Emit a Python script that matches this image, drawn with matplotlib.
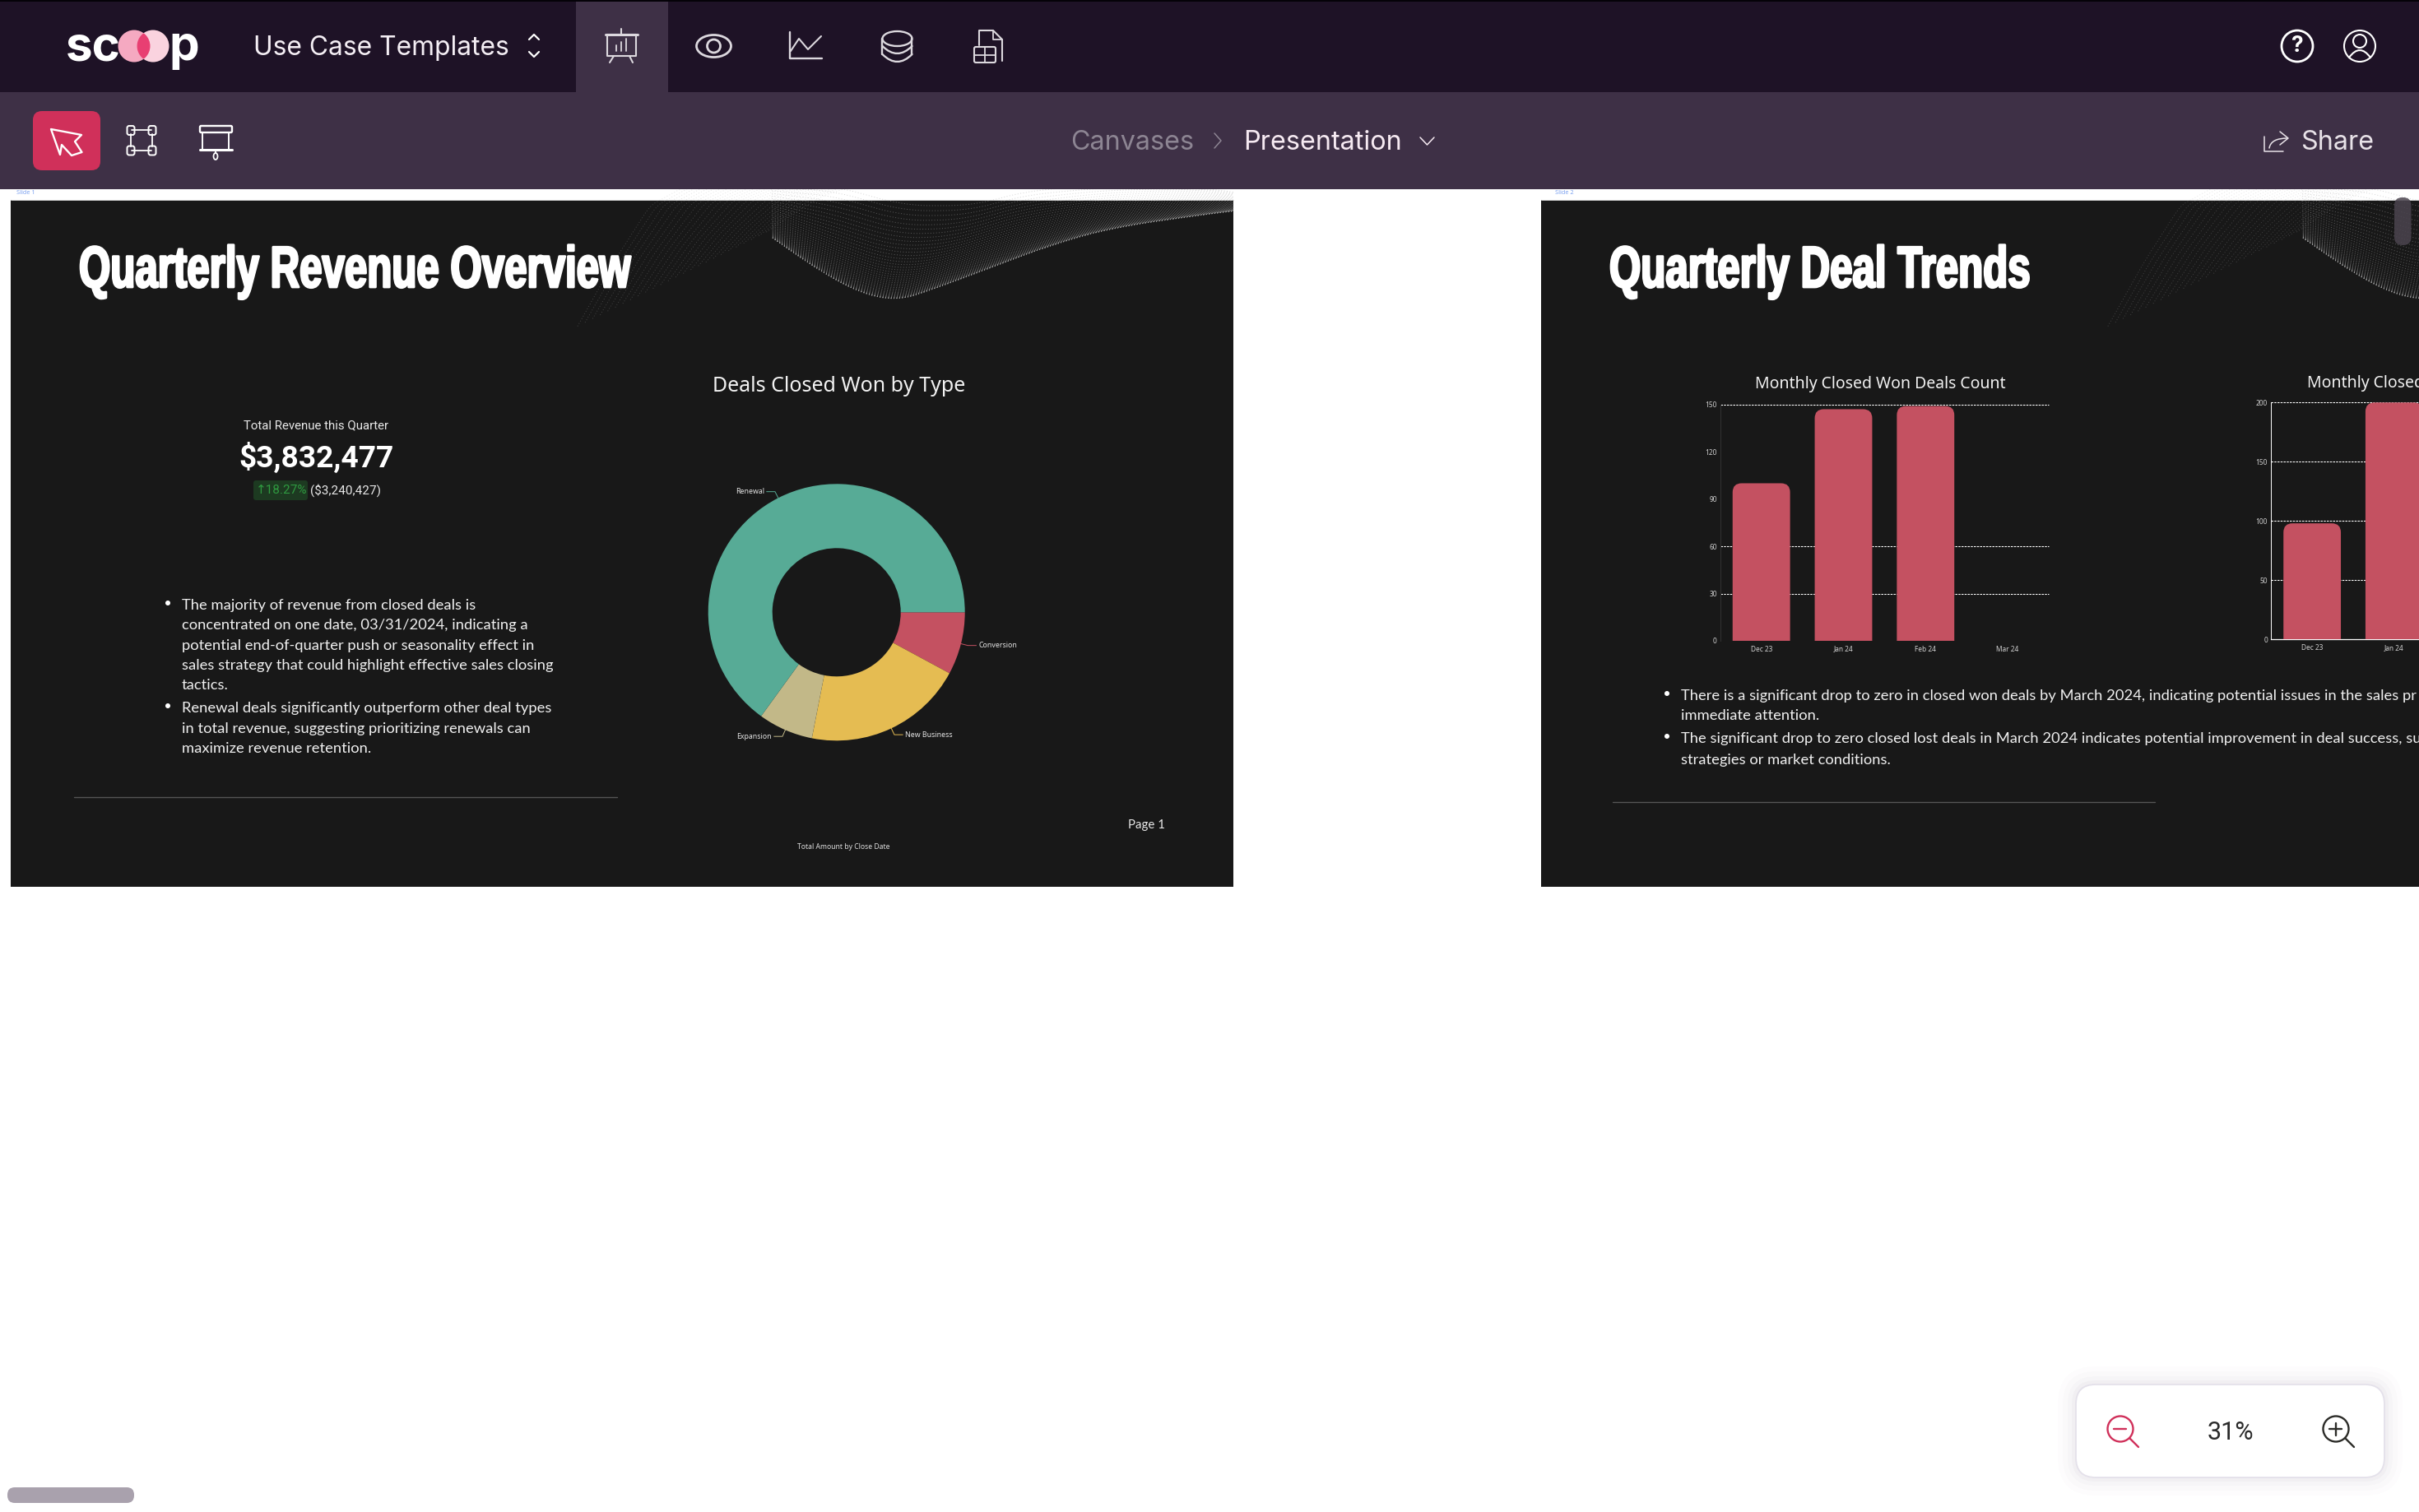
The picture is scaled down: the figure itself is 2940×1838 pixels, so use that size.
import numpy as np
import matplotlib
matplotlib.use("Agg")
import matplotlib.pyplot as plt
from matplotlib.patches import Rectangle, FancyBboxPatch, Circle, Ellipse, PathPatch, Polygon
from matplotlib.path import Path
from matplotlib.transforms import Affine2D
import matplotlib.patheffects as pe

# data
deal_types = ["Conversion", "New Business", "Expansion", "Renewal"]
deal_amounts = [302000, 774000, 265000, 2491000]
deal_colors = ["#c45161", "#e5bc52", "#c2b888", "#57ab96"]

won_months = ["Dec 23", "Jan 24", "Feb 24", "Mar 24"]
won_counts = [100, 147, 149, 0]
won_ticks = [0, 30, 60, 90, 120, 150]
won_grid = [30, 60, 150]

lost_months = ["Dec 23", "Jan 24"]
lost_counts = [98, 200]
lost_ticks = [0, 50, 100, 150, 200]
lost_grid = [50, 100, 150, 200]

bullets_1 = [
    ["The majority of revenue from closed deals is",
     "concentrated on one date, 03/31/2024, indicating a",
     "potential end-of-quarter push or seasonality effect in",
     "sales strategy that could highlight effective sales closing",
     "tactics."],
    ["Renewal deals significantly outperform other deal types",
     "in total revenue, suggesting prioritizing renewals can",
     "maximize revenue retention."],
]
# cut where the canvas cuts them in the screenshot
bullets_2 = [
    ["There is a significant drop to zero in closed won deals by March 2024, indicating potential issues in the sales pr",
     "immediate attention."],
    ["The significant drop to zero closed lost deals in March 2024 indicates potential improvement in deal success, su",
     "strategies or market conditions."],
]

W, H = 2940, 1838
BAR_RED = "#c45161"
SLIDE = "#181818"

fig = plt.figure(figsize=(W / 100, H / 100), dpi=100, facecolor="white")
ui = fig.add_axes([0, 0, 1, 1])
ui.set_xlim(0, W)
ui.set_ylim(H, 0)
ui.axis("off")


class Condensed(pe.AbstractPathEffect):
    # no condensed display font here, so squeeze the text sideways and fatten it
    def __init__(self, x0, sx, stroke):
        super().__init__()
        self.x0, self.sx, self.stroke = x0, sx, stroke

    def draw_path(self, renderer, gc, tpath, affine, rgbFace=None):
        squeeze = Affine2D().translate(-self.x0, 0).scale(self.sx, 1).translate(self.x0, 0)
        gc0 = renderer.new_gc()
        gc0.copy_properties(gc)
        gc0.set_linewidth(self.stroke)
        gc0.set_foreground("white")
        renderer.draw_path(gc0, tpath, affine + squeeze, rgbFace)
        gc0.restore()


def px_axes(x0, y0, x1, y1):
    a = fig.add_axes([x0 / W, 1 - y1 / H, (x1 - x0) / W, (y1 - y0) / H])
    a.set_facecolor("none")
    return a


def label(x, y, s, size, color="white", family="Noto Sans", weight="normal", ha="left", va="center", **kw):
    return ui.text(x, y, s, fontsize=size, color=color, family=family, weight=weight, ha=ha, va=va, **kw)


def line(xs, ys, color="white", lw=1.5, **kw):
    ui.plot(xs, ys, color=color, lw=lw, solid_capstyle="round", solid_joinstyle="round", **kw)


def box(x0, y0, x1, y1, color, **kw):
    ui.add_patch(Rectangle((x0, y0), x1 - x0, y1 - y0, facecolor=color, edgecolor="none", **kw))


def rbox(x0, y0, x1, y1, r, face, edge="none", lw=0, **kw):
    ui.add_patch(FancyBboxPatch((x0 + r, y0 + r), x1 - x0 - 2 * r, y1 - y0 - 2 * r,
                                boxstyle="round,pad=%f,rounding_size=%f" % (r, r),
                                facecolor=face, edgecolor=edge, lw=lw, **kw))


def curve(p0, p1, p2, color="white", lw=1.5):
    ui.add_patch(PathPatch(Path([p0, p1, p2], [Path.MOVETO, Path.CURVE3, Path.CURVE3]),
                           facecolor="none", edgecolor=color, lw=lw, capstyle="round"))


def smooth(points, n=220, k=25):
    pts = np.array(points, dtype=float)
    s = np.linspace(0, 1, len(pts))
    u = np.linspace(0, 1, n)
    x = np.interp(u, s, pts[:, 0])
    y = np.interp(u, s, pts[:, 1])
    kern = np.ones(k) / k
    pad = k // 2
    x2 = np.convolve(np.pad(x, pad, mode="edge"), kern, mode="valid")
    y2 = np.convolve(np.pad(y, pad, mode="edge"), kern, mode="valid")
    return x2, y2


def wave(low, up, n, power, alpha, dx, right):
    lx, ly = smooth(low)
    ux, uy = smooth(up)
    clip = Rectangle((13 + dx, 230), right - 13, 848, transform=ui.transData)
    for t in np.linspace(0, 1, n) ** power:
        l, = ui.plot((1 - t) * lx + t * ux + dx, (1 - t) * ly + t * uy, color="#a8a8a8", lw=0.7,
                     alpha=alpha, ls=(0, (1, 2.5)))
        l.set_clip_path(clip)


# slides
box(13, 243, 1499, 1078, SLIDE)
box(1873, 243, 2960, 1078, SLIDE)
line([13, 1499], [242.5, 242.5], color="#d8d8d8", lw=0.7)
line([1873, 2940], [242.5, 242.5], color="#d8d8d8", lw=0.7)

ridge_low = [(930, 283), (1000, 332), (1050, 358), (1092, 365), (1130, 353), (1200, 327),
             (1271, 300), (1349, 277), (1469, 260), (1512, 255)]
ridge_up = [(930, 225), (1010, 225), (1100, 250), (1180, 250), (1250, 232), (1340, 225),
            (1430, 225), (1512, 235)]
fade_low = [(700, 400), (745, 320), (790, 250), (830, 228)]
fade_up = [(930, 283), (960, 262), (1000, 238), (1040, 225)]
for dx in [0, 1860]:
    wave(ridge_low, ridge_up, 46, 2.5, 0.48, dx, 1499)
    wave(fade_low, fade_up, 26, 1.0, 0.3, dx, 1499)

# top bars
box(0, 0, W, 112, "#1e1226")
box(0, 0, W, 1.5, "#050208")
box(700, 2, 812, 112, "#3e3046")
box(0, 112, W, 230, "#3e3046")

# logo
label(80, 73, "sc", 42, family="Inter", weight="bold", va="baseline")
label(205, 73, "p", 42, family="Inter", weight="bold", va="baseline")
c1 = Circle((163, 56), 19.5, facecolor="#f5a9c1", edgecolor="none")
c2 = Circle((186, 56), 19.5, facecolor="#fad3df", edgecolor="none")
ui.add_patch(c1)
ui.add_patch(c2)
c3 = Circle((163, 56), 19.5, facecolor="#e83f72", edgecolor="none")
ui.add_patch(c3)
c3.set_clip_path(Circle((186, 56), 19.5, transform=ui.transData))

label(308, 59, "Use Case Templates", 22.9, family="Inter", color="#f4eef4")
line([643, 649, 655], [48, 42, 48], lw=1.6)
line([643, 649, 655], [63, 69, 63], lw=1.6)

# nav icons
ic = "#dcd8de"
line([738, 773, 773, 738, 738], [42, 42, 68, 68, 42], color=ic, lw=1.5)
line([736, 775], [42, 42], color=ic, lw=2.2)
line([755, 755], [35, 42], color=ic, lw=1.5)
line([746, 741], [68, 76], color=ic, lw=1.5)
line([765, 769], [68, 76], color=ic, lw=1.5)
line([749, 749], [62, 55], color=ic, lw=1.3)
line([755, 755], [62, 51], color=ic, lw=1.3)
line([761, 761], [62, 47], color=ic, lw=1.3)
ui.add_patch(Ellipse((867.5, 56), 42, 27, facecolor="none", edgecolor=ic, lw=2))
ui.add_patch(Circle((867.5, 56), 8, facecolor="none", edgecolor=ic, lw=2))
line([960, 960, 999], [39, 71, 71], color=ic, lw=1.7)
line([961, 971, 982, 998], [62, 47, 60, 44], color=ic, lw=1.5)
ui.add_patch(Ellipse((1090.5, 47), 36, 18, facecolor="none", edgecolor=ic, lw=1.7))
line([1072.5, 1072.5], [47, 66], color=ic, lw=1.7)
line([1108.5, 1108.5], [47, 66], color=ic, lw=1.7)
for yy in [56, 66]:
    curve((1072.5, yy), (1090.5, yy + 18), (1108.5, yy), color=ic, lw=1.7)
line([1190, 1190, 1207, 1218, 1218], [55, 37, 37, 48, 74], color=ic, lw=1.5)
line([1207, 1207, 1218], [37, 48, 48], color=ic, lw=1.3)
rbox(1184, 57, 1210, 76, 2, "#1e1226", edge=ic, lw=1.5)
line([1184, 1210], [66.5, 66.5], color=ic, lw=1.3)
line([1197, 1197], [57, 76], color=ic, lw=1.3)

# help and user icons
ui.add_patch(Circle((2792, 56), 19, facecolor="none", edgecolor="white", lw=2))
label(2792, 56, "?", 19, family="Inter", weight="bold", ha="center")
ui.add_patch(Circle((2868, 56), 19, facecolor="none", edgecolor="white", lw=1.5))
ui.add_patch(Circle((2868, 50), 8, facecolor="none", edgecolor="white", lw=1.5))
curve((2855, 70), (2868, 52), (2881, 70), lw=1.5)

# tools row
rbox(40, 135, 122, 207, 11, "#d0305a")
ui.add_patch(Polygon([(62, 157), (99, 164), (91, 172), (99.5, 185), (87, 189), (75, 176), (73, 188)],
                     closed=True, facecolor="none", edgecolor="white", lw=1.7, joinstyle="round"))
line([160, 184], [158, 158], lw=1.3)
line([160, 184], [183, 183], lw=1.3)
line([159, 159], [163, 178], lw=1.3)
line([185, 185], [163, 178], lw=1.3)
for cx in [159, 185]:
    for cy in [158.5, 183]:
        rbox(cx - 4.5, cy - 5.5, cx + 4.5, cy + 5.5, 2.5, "#3e3046", edge="white", lw=1.4)
rbox(243, 153, 282, 161, 1.5, "#3e3046", edge="white", lw=1.7)
line([246, 246], [161, 181], lw=1.4)
line([278, 278], [161, 181], lw=1.4)
line([243, 282], [182, 182], lw=2.2)
line([262, 262], [182, 186], lw=1.3)
ui.add_patch(Ellipse((262, 190), 5, 8, facecolor="none", edgecolor="white", lw=1.3))

# breadcrumb
label(1301, 174, "Canvases", 23.3, family="Inter", color="#8d8593")
line([1476, 1484, 1476], [162, 171, 180], color="#8d8593", lw=1.1)
label(1511, 174, "Presentation", 23.3, family="Inter", color="#f6eaf2")
line([1726, 1734.5, 1743], [167, 176, 167], color="#f6eaf2", lw=1.1)

line([2752, 2752, 2775], [166, 184, 184], color="#e8e2e8", lw=1.1)
curve((2758, 180), (2760, 168), (2780, 168), color="#e8e2e8", lw=1.1)
line([2771, 2781, 2771], [160, 168, 176], color="#e8e2e8", lw=1.1)
label(2796, 173, "Share", 23.3, family="Inter", color="#e8e2e8")

label(20, 235, "Slide 1", 5.3, color="#7ea3f0")
label(1890, 235, "Slide 2", 5.3, color="#7ea3f0")

# slide 1
label(96, 349, "Quarterly Revenue Overview", 51, family="Liberation Sans", weight="bold", va="baseline",
      path_effects=[Condensed(96, 0.695, 2.0)])
label(384.5, 517, "Total Revenue this Quarter", 10.8, family="Roboto", color="#e8e8e8", ha="center")
label(384.5, 557, "$3,832,477", 26.7, family="Roboto", weight="bold", ha="center")
rbox(308, 584, 374, 608, 3, "#1d3a21")
label(311, 596, "↑18.27%", 11, family=["Roboto", "DejaVu Sans"], color="#2f9a40")
label(377, 596, "($3,240,427)", 11, family="Roboto", color="#e8e8e8")

y_rows = [736, 760, 785, 809, 833, 861, 886, 910]
row = 0
for para in bullets_1:
    ui.add_patch(Circle((204, y_rows[row] - 3), 3, facecolor="white", edgecolor="none"))
    for txt in para:
        label(221, y_rows[row], txt, 13.2, family="Lato", color="#f0f0f0")
        row += 1

label(1020, 469, "Deals Closed Won by Type", 18, color="#f2f2f2", ha="center")
line([90, 750], [969, 969], color="#555555", lw=1)
label(1371, 1003, "Page 1", 10.8, family="Lato", color="#e8e8e8")
label(1025.5, 1029, "Total Amount by Close Date", 6.2, color="#dddddd", ha="center")

# donut
pie_ax = px_axes(1016.7 - 156, 744.3 - 156, 1016.7 + 156, 744.3 + 156)
wedges, _ = pie_ax.pie(deal_amounts, colors=deal_colors, startangle=0, counterclock=False, radius=1,
                       wedgeprops={"width": 0.5, "edgecolor": "none"})
pie_ax.set_xlim(-1, 1)
pie_ax.set_ylim(-1, 1)
for w, name, col in zip(wedges, deal_types, deal_colors):
    ang = np.radians((w.theta1 + w.theta2) / 2)
    x0, y0 = 0.98 * np.cos(ang), 0.98 * np.sin(ang)
    x1, y1 = 1.055 * np.cos(ang), 1.055 * np.sin(ang)
    side = 1 if x1 > 0 else -1
    x2 = x1 + side * 0.065
    pie_ax.plot([x0, x1, x2], [y0, y1, y1], color=col, lw=0.7, clip_on=False)
    pie_ax.text(x2 + side * 0.02, y1, name, fontsize=6.3, color="#e6e6e6", family="Noto Sans",
                ha="left" if side > 0 else "right", va="center")


def rounded_bar(ax, x, width, height, rx, ry):
    if height <= 0:
        return
    l, r = x - width / 2, x + width / 2
    verts = [(l, 0), (l, height - ry), (l, height), (l + rx, height), (r - rx, height),
             (r, height), (r, height - ry), (r, 0), (l, 0)]
    codes = [Path.MOVETO, Path.LINETO, Path.CURVE3, Path.CURVE3, Path.LINETO,
             Path.CURVE3, Path.CURVE3, Path.LINETO, Path.CLOSEPOLY]
    ax.add_patch(PathPatch(Path(verts, codes), facecolor=BAR_RED, edgecolor="none", zorder=3))


def bar_chart(box_px, months, counts, ticks, grid, n_cat, ymax):
    ax = px_axes(*box_px)
    ax.set_xlim(-0.5, n_cat - 0.5)
    ax.set_ylim(0, ymax)
    ppx = (box_px[2] - box_px[0]) / n_cat
    ppy = (box_px[3] - box_px[1]) / ymax
    for i, v in enumerate(counts):
        rounded_bar(ax, i, 0.7, v, 11 / ppx, 11 / ppy)
    ax.hlines(grid, -0.5, n_cat - 0.5, color="white", lw=0.75, linestyles=(0, (2.4, 1.2)), zorder=1, clip_on=False)
    ax.set_xticks(range(len(months)))
    ax.set_xticklabels(months)
    ax.set_yticks(ticks)
    ax.tick_params(length=0, colors="#d0d0d0", labelsize=6, pad=3)
    ax.tick_params(axis="x", pad=4)
    for t in ax.get_xticklabels() + ax.get_yticklabels():
        t.set_family("Noto Sans")
    for s in ["top", "right"]:
        ax.spines[s].set_visible(False)
    return ax


# slide 2
label(1956, 349, "Quarterly Deal Trends", 51, family="Liberation Sans", weight="bold", va="baseline",
      path_effects=[Condensed(1956, 0.695, 2.0)])
label(2285, 467, "Monthly Closed Won Deals Count", 14, color="#f2f2f2", ha="center")
label(2804, 466, "Monthly Closed", 14, color="#f2f2f2")

ax_won = bar_chart((2090.8, 491.7, 2490, 779), won_months, won_counts, won_ticks, won_grid, 4, 150)
ax_won.spines["left"].set_color("#333333")
ax_won.spines["left"].set_linewidth(0.7)
ax_won.spines["bottom"].set_visible(False)

ax_lost = bar_chart((2760.3, 489.3, 3159, 777.3), lost_months, lost_counts, lost_ticks, lost_grid, 4, 200)
ax_lost.spines["left"].set_color("white")
ax_lost.spines["left"].set_linewidth(0.7)
ax_lost.spines["bottom"].set_color("white")
ax_lost.spines["bottom"].set_linewidth(0.9)

y_rows2 = [846, 870, 898, 924]
row = 0
for para in bullets_2:
    ui.add_patch(Circle((2026, y_rows2[row] - 3), 3, facecolor="white", edgecolor="none"))
    for txt in para:
        label(2043, y_rows2[row], txt, 13.2, family="Lato", color="#f0f0f0")
        row += 1
line([1960, 2619], [975, 975], color="#555555", lw=1)

# scroll thumbs (on top of the slide content)
top = px_axes(0, 0, W, H)
top.set_xlim(0, W)
top.set_ylim(H, 0)
top.axis("off")
top.add_patch(FancyBboxPatch((2920, 250), 0.5, 38, boxstyle="round,pad=10,rounding_size=9.5",
                             facecolor="#4b444f", edgecolor="none", alpha=0.85))
top.add_patch(FancyBboxPatch((18, 1817), 136, 1, boxstyle="round,pad=9,rounding_size=9",
                             facecolor="#a9a1ad", edgecolor="none"))

# zoom widget
for grow, a in [(22, 0.012), (16, 0.016), (10, 0.02), (5, 0.03)]:
    rbox(2523 - grow, 1683 - grow, 2898 + grow, 1796 + grow, 24 + grow, "#5a5070", alpha=a)
rbox(2523, 1683, 2898, 1796, 24, "white", edge="#e4e1ea", lw=1.3)
for cx, col in [(2577, "#d0305a"), (2839, "#2c2c28")]:
    ui.add_patch(Circle((cx, 1737), 15.5, facecolor="none", edgecolor=col, lw=1.7))
    line([cx + 11, cx + 22], [1748, 1759], color=col, lw=1.7)
    line([cx - 7.5, cx + 7.5], [1737, 1737], color=col, lw=1.7)
line([2839, 2839], [1729.5, 1744.5], color="#2c2c28", lw=1.7)
label(2711, 1741, "31%", 22, family="Roboto", color="#2a2a2a", ha="center")

fig.savefig("out.png", dpi=100, facecolor="white")
